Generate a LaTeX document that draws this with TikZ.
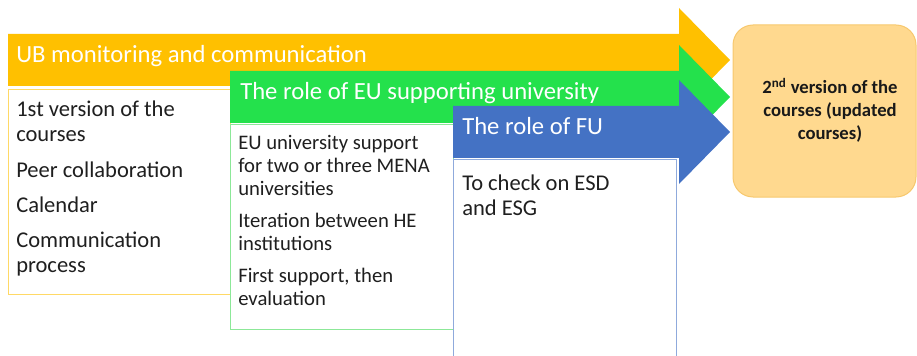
\documentclass[tikz,border=0pt]{standalone}
\usepackage{fontspec}
\setmainfont{Carlito}
\definecolor{ubgold}{RGB}{255,192,0}
\definecolor{ubgoldline}{RGB}{255,217,102}
\definecolor{eugreen}{RGB}{36,225,76}
\definecolor{eugreenline}{RGB}{140,232,152}
\definecolor{fublue}{RGB}{68,114,196}
\definecolor{fublueline}{RGB}{143,170,220}
\definecolor{resultfill}{RGB}{255,217,143}
\definecolor{resultline}{RGB}{247,200,110}
\tikzset{
  bandhead/.style={font=\fontsize{18.5}{22}\selectfont, text=white, anchor=base west, inner sep=0pt},
  itemtext/.style={font=\fontsize{16.9}{18.75}\selectfont, text=black!88, anchor=base west, inner sep=0pt, align=left},
  itemsmall/.style={font=\fontsize{15.5}{17.25}\selectfont, text=black!88, anchor=base west, inner sep=0pt, align=left},
  resulttext/.style={font=\bfseries\fontsize{14}{17.25}\selectfont, text=black!90, anchor=base, inner sep=0pt, align=center}
}
\begin{document}
\begin{tikzpicture}[x=0.75pt,y=0.75pt,yscale=-1,xscale=1]
\useasboundingbox (0,0) rectangle (917,356);
%Shape: Right Arrow
\fill [ubgold] (8,34) -- (679,34) -- (679,8) -- (730,60) -- (679,112) -- (679,86) -- (8,86) -- cycle ;
%Shape: Rectangle
\draw [ubgoldline, fill=white, line width=0.75] (8,90) rectangle (230,294) ;
%Shape: Right Arrow
\fill [eugreen] (230,71) -- (679,71) -- (679,45) -- (730,97) -- (679,149) -- (679,123) -- (230,123) -- cycle ;
%Shape: Rectangle
\draw [eugreenline, fill=white, line width=0.75] (230,125) rectangle (453,329) ;
%Shape: Right Arrow
\fill [fublue] (453,106) -- (679,106) -- (679,80) -- (730,132) -- (679,184) -- (679,158) -- (453,158) -- cycle ;
%Shape: Rectangle
\draw [fublueline, fill=white, line width=0.75] (453,160) rectangle (676,362) ;
%Rounded Rect
\draw [resultline, fill=resultfill, line width=0.75, rounded corners=15pt] (733,25) rectangle (916,197) ;
% Text Node
\node [bandhead] (ubhead) at (16,63) {UB monitoring and communication};
% Text Node
\node [bandhead] (euhead) at (240,100) {The role of EU supporting university};
% Text Node
\node [bandhead] (fuhead) at (462,135) {The role of FU};
% Text Node (anchored at its last line)
\node [itemtext] (ubitems) at (16,272) {1st version of the\\courses\\[7.5pt]Peer collaboration\\[7.5pt]Calendar\\[7.5pt]Communication\\process};
% Text Node
\node [itemsmall] (euitems) at (238,305) {EU university support\\for two or three MENA\\universities\\[6.75pt]Iteration between HE\\institutions\\[6.75pt]First support, then\\evaluation};
% Text Node
\node [itemtext] (fuitems) at (462,215) {To check on ESD\\and ESG};
% Text Node
\node [resulttext] (result) at (830,140) {2\textsuperscript{nd} version of the\\courses (updated\\courses)};
\end{tikzpicture}
\end{document}
